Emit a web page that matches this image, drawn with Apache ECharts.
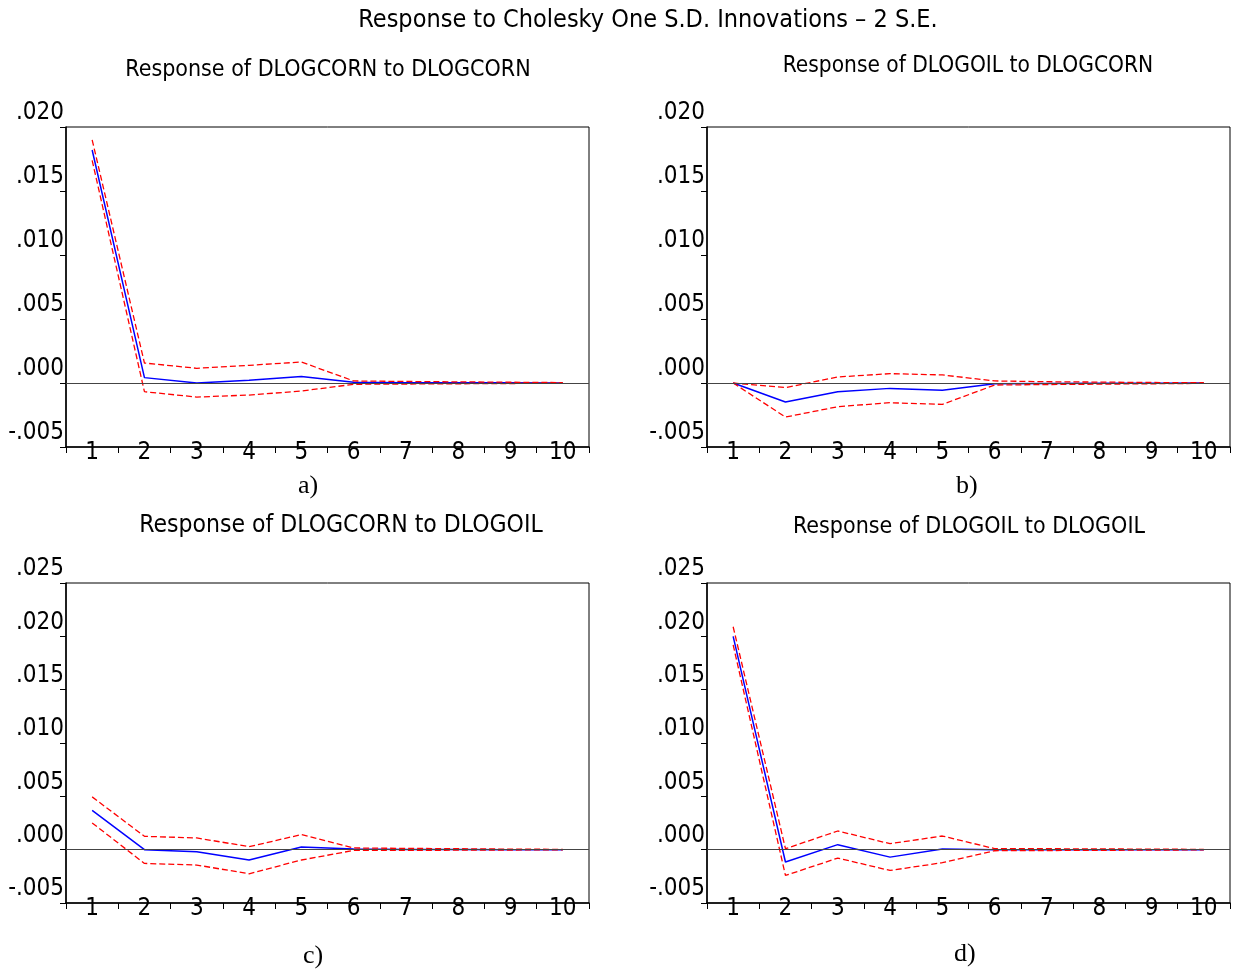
<!DOCTYPE html>
<html>
<head>
<meta charset="utf-8">
<script src="https://cdn.jsdelivr.net/npm/echarts@6/dist/echarts.min.js"></script>
<style>
 html,body{margin:0;padding:0;background:#fff;}
 #chart{width:1240px;height:970px;}
</style>
</head>
<body>
<div id="chart"></div>
<script>
// periods on the x axis
var periods = ['1','2','3','4','5','6','7','8','9','10'];

// a) Response of DLOGCORN to DLOGCORN
var aResp = [0.0182, 0.00042, 0.0000, 0.00021, 0.0005, 0.00005, 0.00002, 0.00001, 0.00001, 0.0000];
var aUp   = [0.0190, 0.00156, 0.00115, 0.00138, 0.00164, 0.00016, 0.00012, 0.00009, 0.00006, 0.00003];
var aLo   = [0.0174, -0.00068, -0.0011, -0.00094, -0.00063, -0.0001, -0.00008, -0.00006, -0.00004, -0.00002];

// b) Response of DLOGOIL to DLOGCORN
var bResp = [0.0000, -0.00148, -0.00068, -0.00042, -0.00057, -0.00005, -0.00003, -0.00002, -0.00001, 0.0000];
var bUp   = [0.0000, -0.00036, 0.00047, 0.00073, 0.00063, 0.00016, 0.00010, 0.00007, 0.00004, 0.00002];
var bLo   = [0.0000, -0.00266, -0.00185, -0.00154, -0.00167, -0.00016, -0.00012, -0.00009, -0.00006, -0.00003];

// c) Response of DLOGCORN to DLOGOIL
var cResp = [0.00369, 0.0000, -0.00019, -0.00097, 0.00025, 0.00006, 0.00002, 0.00001, 0.0000, 0.0000];
var cUp   = [0.00495, 0.00125, 0.0011, 0.00028, 0.00141, 0.00016, 0.00012, 0.00009, 0.00005, 0.00003];
var cLo   = [0.00251, -0.00129, -0.00144, -0.00226, -0.00097, -0.00007, -0.00006, -0.00005, -0.00003, -0.00002];

// d) Response of DLOGOIL to DLOGOIL
var dResp = [0.0200, -0.00116, 0.00047, -0.0007, 0.00006, 0.0000, 0.0000, 0.0000, 0.0000, 0.0000];
var dUp   = [0.0209, 0.00009, 0.00175, 0.00056, 0.00128, 0.0001, 0.00009, 0.00007, 0.00005, 0.00003];
var dLo   = [0.0192, -0.00242, -0.00079, -0.00195, -0.00122, -0.0001, -0.00008, -0.00006, -0.00004, -0.00002];

var topMin = -0.005, topMax = 0.020;
var botMin = -0.005, botMax = 0.025;
var yStep = 0.005;

var SANS = "'Liberation Sans Narrow','DejaVu Sans Condensed','Liberation Sans',sans-serif";
var SERIF = "'Liberation Serif','DejaVu Serif',serif";
var BLUE = '#0000ff', RED = '#ff0000';

var panels = [
 {title:'Response of DLOGCORN to DLOGCORN', tx:323, ty:54, fs:23, cap:'a)', cx:310, cy:488,
  left:66, top:127, min:topMin, max:topMax, resp:aResp, up:aUp, lo:aLo},
 {title:'Response of DLOGOIL to DLOGCORN', tx:963, ty:50, fs:22.5, cap:'b)', cx:968, cy:488,
  left:707, top:127, min:topMin, max:topMax, resp:bResp, up:bUp, lo:bLo},
 {title:'Response of DLOGCORN to DLOGOIL', tx:336, ty:508, fs:24.5, cap:'c)', cx:315, cy:958,
  left:66, top:583, min:botMin, max:botMax, resp:cResp, up:cUp, lo:cLo},
 {title:'Response of DLOGOIL to DLOGOIL', tx:964, ty:511, fs:23, cap:'d)', cx:966, cy:956,
  left:707, top:583, min:botMin, max:botMax, resp:dResp, up:dUp, lo:dLo}
];

function tickFmt(v){
 var s = (Math.round(v*1000)/1000).toFixed(3);
 return s.replace(/^(-?)0\./,'$1.');
}

var grid=[], xAxis=[], yAxis=[], series=[], titles=[], graphics=[];

titles.push({text:'Response to Cholesky One S.D. Innovations \u2013 2 S.E.', left:643, top:3,
 textAlign:'center', textStyle:{fontFamily:SANS, fontSize:25, fontWeight:'normal', color:'#000'}});

panels.forEach(function(p,i){
 titles.push({text:p.title, left:p.tx, top:p.ty, textAlign:'center',
  textStyle:{fontFamily:SANS, fontSize:p.fs, fontWeight:'normal', color:'#000'}});
 graphics.push({type:'text', left:p.cx-12, top:p.cy-15,
  style:{text:p.cap, font:'26px '+SERIF, fill:'#000'}});

 grid.push({left:p.left, top:p.top, width:523, height:320, show:true,
  borderColor:'#000', borderWidth:1, backgroundColor:'#fff'});

 xAxis.push({type:'category', gridIndex:i, data:periods, boundaryGap:true,
  axisLine:{show:true, onZero:false, lineStyle:{color:'#000', width:1.5}},
  axisTick:{show:true, inside:false, length:6, lineStyle:{color:'#000'}},
  axisLabel:{margin:-6, fontFamily:SANS, fontSize:24, color:'#000'},
  splitLine:{show:false}});

 yAxis.push({type:'value', gridIndex:i, min:p.min, max:p.max, interval:yStep,
  axisLine:{show:true, lineStyle:{color:'#000', width:1.5}},
  axisTick:{show:true, inside:false, length:6, lineStyle:{color:'#000'}},
  axisLabel:{margin:2, fontFamily:SANS, fontSize:24, color:'#000',
   verticalAlign:'bottom', padding:[0,0,2,0], formatter:tickFmt},
  splitLine:{show:false}});

 var base = {type:'line', xAxisIndex:i, yAxisIndex:i, symbol:'none', silent:true, animation:false};
 series.push(Object.assign({}, base, {name:'resp'+i, data:p.resp, z:3,
  lineStyle:{color:BLUE, width:1.5},
  markLine:{silent:true, symbol:'none', label:{show:false},
   lineStyle:{color:'#444', width:1.2, type:'solid'}, data:[{yAxis:0}]}}));
 series.push(Object.assign({}, base, {name:'up'+i, data:p.up, z:4,
  lineStyle:{color:RED, width:1.3, type:[6,3]}}));
 series.push(Object.assign({}, base, {name:'lo'+i, data:p.lo, z:4,
  lineStyle:{color:RED, width:1.3, type:[6,3]}}));
});

var chart = echarts.init(document.getElementById('chart'));
chart.setOption({
 backgroundColor:'#fff',
 animation:false,
 title:titles,
 grid:grid,
 xAxis:xAxis,
 yAxis:yAxis,
 series:series,
 graphic:graphics
});
</script>
</body>
</html>
